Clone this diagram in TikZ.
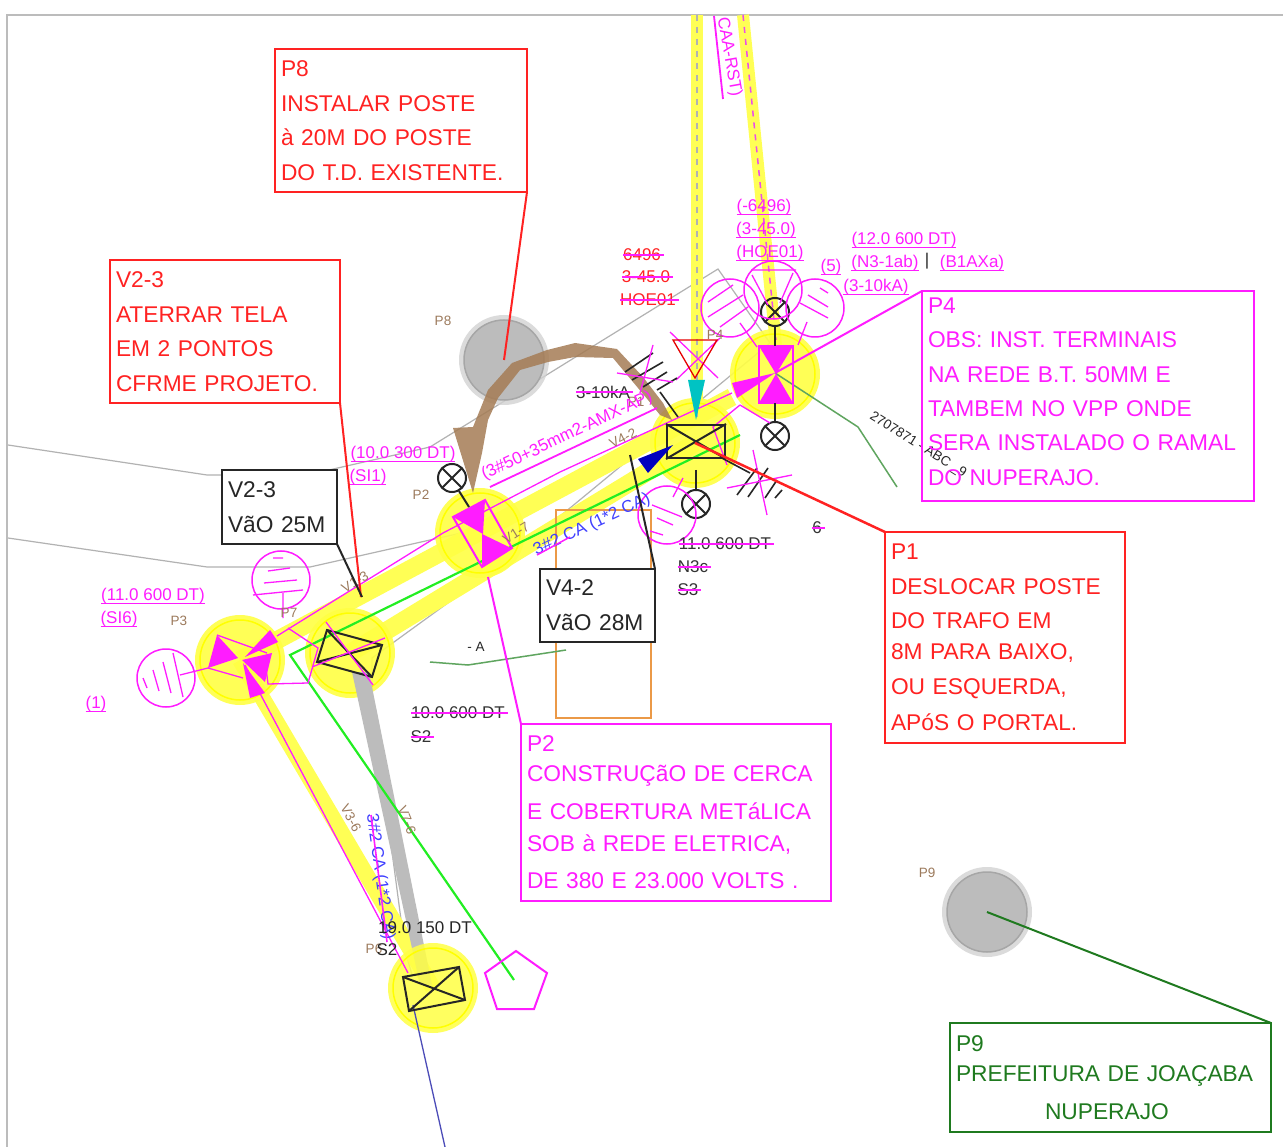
\documentclass[tikz,border=0pt]{standalone}
\usepackage{fontspec}
\setmainfont{Liberation Sans}
\definecolor{mag}{HTML}{FF1CFF}
\definecolor{rd}{HTML}{FF2222}
\definecolor{yel}{HTML}{FFFF55}
\definecolor{yfill}{HTML}{FFFF44}
\definecolor{yring}{HTML}{FFFF00}
\definecolor{brn}{HTML}{9C7A5C}
\definecolor{tanb}{HTML}{A57C55}
\definecolor{dgreen}{HTML}{1F7A1F}
\definecolor{tgreen}{HTML}{5FA55F}
\definecolor{lgreen}{HTML}{22EE22}
\definecolor{gr}{HTML}{BCBCBC}
\tikzset{
  box/.style={draw,line width=2pt,anchor=north west,inner sep=6pt,outer sep=0pt,align=left,font=\fontsize{22.75}{30}\selectfont},
  small/.style={inner sep=0pt,outer sep=0pt,font=\fontsize{17}{17}\selectfont},
  tiny/.style={inner sep=0pt,outer sep=0pt,text=brn,font=\fontsize{13.5}{14}\selectfont},
  pole/.style={circle,fill=yfill,fill opacity=.9,draw=none,minimum size=90pt,inner sep=0pt,outer sep=0pt},
  ring/.style={draw=yring,line width=1.5pt},
  stone/.style={circle,fill=gr,draw=gray!70,line width=1.5pt,minimum size=80pt,inner sep=0pt},
  ml/.style={draw=mag,line width=1.3pt},
  mf/.style={fill=mag,draw=none},
  bl/.style={draw=black!85,line width=2pt},
  ybandw/.style={draw=yel,line cap=butt},
  gline/.style={draw=gray!60,line width=1.2pt},
  lamp/.style={circle,draw=black!85,line width=2pt,minimum size=28pt,inner sep=0pt,outer sep=0pt},
  hat/.style={circle,draw=mag,line width=1.5pt,minimum size=58pt,inner sep=0pt,outer sep=0pt},
}
% underlined label
\newcommand\ulab[4]{\node[small,text=mag,anchor=center,yshift=-2pt] (#1) at (#2,#3) {#4};
  \draw[mag,line width=1.5pt] ([yshift=-3pt]#1.base west) -- ([yshift=-3pt]#1.base east);}
% struck label
\newcommand\slab[5]{\node[small,text=#5,anchor=center,yshift=-1pt] (#1) at (#2,#3) {#4};
  \draw[mag,line width=1.5pt] (#1.west) -- ([xshift=3pt]#1.east);}
% lamp with a cross
\newcommand\lampx[3]{\node[lamp] (#1) at (#2,#3) {};
  \draw[bl] (#1.north west) -- (#1.south east) (#1.north east) -- (#1.south west);}
\begin{document}
\begin{tikzpicture}[x=1pt,y=-1pt]
\useasboundingbox (0,0) rectangle (1283,1147);
\fill[white] (0,0) rectangle (1283,1147);
\clip (0,0) rectangle (1283,1147);
\draw[gr,line width=2pt] (1283,15) -- (7,15) -- (7,1147);

% thin gray outlines
\draw[gline] (8,445) -- (207,475) -- (307,475) -- (430,447) -- (718,269) -- (770,343) -- (507,560) -- (372,658) -- (372,700) -- (405,950) -- (412,975);
\draw[gline] (8,538) -- (207,567) -- (310,567) -- (430,540) -- (520,520);

% yellow bands
\coordinate (topA) at (697,15); \coordinate (topB) at (743,15);
\coordinate (poleP4) at (775,374); \coordinate (poleP1) at (695,443); \coordinate (poleP2) at (480,533);
\coordinate (poleP7) at (350,653); \coordinate (poleP3) at (240,660); \coordinate (poleP6) at (433,988);
\draw[ybandw,line width=12pt] (topA) -- (697,420);
\draw[ybandw,line width=12pt] (topB) -- (776,345);
\draw[ybandw,line width=18pt] (poleP3) -- (732,397);
\draw[ybandw,line width=18pt] (poleP7) -- (poleP1);
\draw[ybandw,line width=16pt] (poleP3) -- (poleP6);

% pole discs
\foreach \n in {P4,P1,P2,P7,P3} {
  \node[pole] (disc\n) at (pole\n) {};
  \draw[ring] (pole\n) circle (40);
}
\fill[gr] (352,672) -- (369,672) -- (432,985) -- (420,985) -- cycle;
\node[pole,fill opacity=.85] (discP6) at (poleP6) {};
\draw[ring] (poleP6) circle (40);
\draw[gray!60,dash pattern=on 6pt off 6pt,line width=1.5pt] (topA) -- (697,420);
\draw[mag!70!gr,dash pattern=on 6pt off 6pt,line width=1.5pt] (topB) -- (776,340);

% stones
\fill[gray!35,opacity=.8] (504,360) circle (45);
\node[stone] (stoneP8) at (504,360) {};
\fill[gray!35,opacity=.8] (987,912) circle (45);
\node[stone] (stoneP9) at (987,912) {};

% brown path
\fill[tanb,opacity=.85] (473,493) -- (453,428) -- (473,427) -- (488,390) -- (512,363) -- (547,350) -- (575,343) -- (617,349) -- (643,377) -- (663,403) -- (672,420) -- (660,415) -- (648,400) -- (613,358) -- (575,357) -- (548,362) -- (520,370) -- (498,398) -- (488,420) -- (482,453) -- cycle;

% orange rectangle
\draw[draw=orange!60!brown!80,line width=1.5pt] (556,510) rectangle (651,718);

% green lines
\draw[lgreen,line width=2.2pt] (740,435) -- (290,655) -- (514,980);
\draw[tgreen,line width=1.5pt] (430,662) -- (468,665) -- (566,650);
\draw[tgreen,line width=1.5pt] (775,373) -- (858,427) -- (897,487);
\draw[blue!60!black!70,line width=1.3pt] (413,1005) -- (445,1147);

% pentagon
\draw[ml,line width=2pt] (516,951) -- (547,973) -- (534,1009) -- (497,1009) -- (485,973) -- cycle;

% long thin magenta conductors
\draw[ml] (277,636) -- (443,533) -- (560,472) -- (732,393);
\draw[ml] (245,665) -- (408,973);

% P4 pole symbol
\draw[ml,line width=2pt] (759,346) rectangle (793,403);
\fill[mf] (759,346) -- (793,346) -- (776,374) -- cycle;
\fill[mf] (759,403) -- (793,403) -- (776,374) -- cycle;
\fill[mf] (732,383) -- (737,398) -- (775,373) -- cycle;
\lampx{lampP4a}{775}{312}
\lampx{lampP4b}{775}{436}
\draw[bl] (lampP4a.south) -- (775,346) (775,403) -- (lampP4b.north);
\node[hat] (hatL) at (730,308) {};
\node[hat] (hatM) at (773,290) {};
\node[hat] (hatR) at (815,308) {};
\draw[ml] (708,302) -- (733,285) (708,317) -- (743,295) (720,327) -- (748,307) (740,323) -- (757,347);
\draw[ml] (820,288) -- (828,293) (808,295) -- (828,307) (800,303) -- (828,318) (807,322) -- (798,345);
\draw[ml] (751,270) -- (796,270) (752,275) -- (768,305) (793,273) -- (780,303);
\draw[mag,line width=2pt] (922,291) -- (775,373);
\draw[ml] (740,405) -- (770,423) (740,405) -- (713,427) -- (727,465);

% P1 pole symbol
\node[draw=black!85,line width=2pt,minimum width=58pt,minimum height=33pt,inner sep=0pt] (rectP1) at (696,441.5) {};
\draw[bl] (rectP1.north west) -- (rectP1.south east) (rectP1.north east) -- (rectP1.south west);
\draw[ml] (670,332) -- (718,378) (720,338) -- (676,380);
\draw[red!90!black,line width=1.3pt] (673,340) -- (717,340) -- (695,378) -- cycle;
\fill[teal!30!cyan!90!black] (688,380) -- (705,380) -- (696,420) -- cycle;
\fill[blue!75!black] (673,445) -- (638,459) -- (648,473) -- cycle;
\lampx{lampP1}{696}{504}
\draw[bl] (696,470) -- (lampP1.north);
\node[hat] (hatP1) at (667,515) {};
\draw[ml] (652,505) -- (682,517) (657,518) -- (673,525) (650,531) -- (663,535) (673,497) -- (683,478);
% NW arrester group
\draw[bl,line width=1.6pt] (625,372) -- (653,353) (632,380) -- (663,362) (643,387) -- (667,372) (657,390) -- (677,378) (660,392) -- (678,417);
\draw[ml] (653,345) -- (640,393) (617,373) -- (673,382);
% SE arrester group
\draw[bl,line width=1.6pt] (737,495) -- (757,468) (748,497) -- (768,468) (765,498) -- (777,480) (775,498) -- (782,490) (720,457) -- (750,473);
\draw[ml] (753,450) -- (767,515) (727,488) -- (792,475);

% P2 pole symbol
\draw[ml,line width=2pt] (453,517) -- (485,500) -- (512,548) -- (482,567) -- cycle;
\fill[mf] (453,517) -- (485,500) -- (483,534) -- cycle;
\fill[mf] (482,567) -- (511,548) -- (482,534) -- cycle;
\lampx{lampP2}{452}{478}
\draw[bl] (459,491) -- (469,507);

% P7 pole symbol
\draw[bl] (327,630) -- (382,645) -- (372,677) -- (317,662) -- cycle;
\draw[bl] (327,630) -- (372,677) (382,645) -- (317,662);
\draw[ml] (326,622) -- (373,685) (312,667) -- (385,638);
\draw[ml] (288,628) -- (318,648) -- (308,683) -- (268,684) -- (265,660);

% P3 pole symbol
\fill[mf] (217,635) -- (208,668) -- (238,658) -- cycle;
\fill[mf] (270,630) -- (278,642) -- (245,657) -- cycle;
\fill[mf] (272,653) -- (265,682) -- (242,660) -- cycle;
\fill[mf] (243,663) -- (265,693) -- (250,698) -- cycle;
\draw[ml] (217,635) -- (267,653) (208,668) -- (243,678);
\node[hat] (hatP3) at (166,678) {};
\draw[ml] (143,678) -- (147,688) (153,670) -- (159,691) (163,662) -- (171,693) (173,653) -- (183,697) (180,675) -- (208,668);
\node[hat] (hatP7) at (281,580) {};
\draw[ml] (273,558) -- (283,558) (268,571) -- (290,568) (264,583) -- (297,580) (253,595) -- (303,590) (283,593) -- (283,618);

% P6 pole symbol
\draw[bl] (403,977) -- (459,967) -- (465,1000) -- (409,1011) -- cycle;
\draw[bl] (403,977) -- (465,1000) (459,967) -- (409,1011);

% tiny brown labels
\node[tiny] (tP8) at (443,321) {P8};
\node[tiny] (tP2) at (421,495) {P2};
\node[tiny] (tP3) at (179,621) {P3};
\node[tiny] (tP7) at (289,613) {P7};
\node[tiny] (tP9) at (927,873) {P9};
\node[tiny] (tP4) at (715,335) {P4};
\node[tiny] (tP1) at (636,402) {P1};
\node[tiny] (tP6) at (374,949) {P6};
\node[tiny,rotate=32] (tV17) at (516,533) {V1-7};
\node[tiny,rotate=30] (tV13) at (355,582) {V1-3};
\node[tiny,rotate=27] (tV42) at (623,438) {V4-2};
\node[tiny,rotate=-62] (tV36) at (351,818) {V3-6};
\node[tiny,rotate=-68] (tV76) at (407,820) {V7-6};
\node[tiny,text=black!85] (tA) at (476,647) {- A};
\node[tiny,text=black!85,rotate=-32] (tKey) at (918,445) {2707871 - ABC \_9};

% underlined magenta labels
\ulab{a1}{764}{205}{(-6496)}
\ulab{a2}{766}{228}{(3-45.0)}
\ulab{a3}{770}{251}{(HOE01)}
\ulab{a4}{904}{238}{(12.0 600 DT)}
\ulab{a5}{885}{261}{(N3-1ab)}
\ulab{a6}{972}{261}{(B1AXa)}
\ulab{a7}{831}{265}{(5)}
\ulab{a8}{876}{285}{(3-10kA)}
\ulab{a9}{403}{452}{(10.0 300 DT)}
\ulab{a10}{368}{475}{(SI1)}
\ulab{a11}{153}{594}{(11.0 600 DT)}
\ulab{a12}{119}{617}{(SI6)}
\ulab{a13}{96}{702}{(1)}
\node[small,text=black!85] (bar) at (927,261) {|};
\node[small,text=mag,rotate=25.3] (cond) at (567,436) {(3\#50+35mm2-AMX-AP)};
\draw[mag,line width=1.8pt] (490,487) -- (657,408);
\node[small,text=mag,rotate=-80] (caa) at (729,57) {CAA-RST)};
\draw[mag,line width=1.8pt] (714,16) -- (723,99);
\node[small,text=blue!75!white,rotate=25] (cab1) at (592,525) {3\#2 CA (1*2 CA)};
\draw[mag,line width=1.5pt] (537,555) -- (570,537);
\node[small,text=blue!75!white,rotate=-82] (cab2) at (380,877) {3\#2 CA (1*2 CA)};
\draw[mag,line width=1.6pt] (371,815) -- (387,942);

% struck labels
\slab{s1}{642}{254}{6496}{rd}
\slab{s2}{646}{276}{3-45.0}{rd}
\slab{s3}{648}{299}{HOE01}{rd}
\slab{s4}{603}{391}{3-10kA}{black!80}
\slab{s5}{458}{712}{10.0 600 DT}{black!80}
\slab{s6}{421}{736}{S2}{black!80}
\slab{s7}{725}{543}{11.0 600 DT}{black!80}
\slab{s8}{693}{566}{N3c}{black!80}
\slab{s9}{688}{589}{S3}{black!80}
\slab{s10}{817}{527}{6}{black!80}
\node[small,text=black!85] (d1) at (425,928) {19.0 150 DT};
\node[small,text=black!85] (d2) at (387,950) {S2};

% callout boxes
\node[box,draw=rd,text=rd,minimum width=252pt,minimum height=143pt,text width=240pt] (bP8) at (275,49)
  {P8\\[4.5pt]INSTALAR POSTE\\[4.5pt]à 20M DO POSTE\\[4.5pt]DO T.D. EXISTENTE.};
\node[box,draw=rd,text=rd,minimum width=230pt,minimum height=143pt,text width=218pt] (bV23) at (110,260)
  {V2-3\\[4.5pt]ATERRAR TELA\\[4.5pt]EM 2 PONTOS\\[4.5pt]CFRME PROJETO.};
\node[box,draw=black!85,text=black!85,fill=white,minimum width=115pt,minimum height=74pt,text width=103pt] (bV23k) at (222,470)
  {V2-3\\[5pt]VãO 25M};
\node[box,draw=black!85,text=black!85,fill=white,minimum width=115pt,minimum height=73pt,text width=103pt] (bV42) at (540,569)
  {V4-2\\[5pt]VãO 28M};
\node[box,draw=mag,text=mag,minimum width=332pt,minimum height=210pt,text width=320pt] (bP4) at (922,291)
  {P4\\[4.3pt]OBS: INST. TERMINAIS\\[4.3pt]NA REDE B.T. 50MM E\\[4.3pt]TAMBEM NO VPP ONDE\\[4.3pt]SERA INSTALADO O RAMAL\\[4.3pt]DO NUPERAJO.\rule[-9pt]{0pt}{9pt}};
\node[box,draw=rd,text=rd,minimum width=240pt,minimum height=211pt,text width=228pt] (bP1) at (885,532)
  {P1\\[5pt]DESLOCAR POSTE\\[4pt]DO TRAFO EM\\[1.5pt]8M PARA BAIXO,\\[4.5pt]OU ESQUERDA,\\[6.5pt]APóS O PORTAL.};
\node[box,draw=mag,text=mag,minimum width=310pt,minimum height=177pt,text width=298pt] (bP2) at (521,724)
  {P2\\[0pt]CONSTRUÇãO DE CERCA\\[8pt]E COBERTURA METáLICA\\[2pt]SOB à REDE ELETRICA,\\[7pt]DE 380 E 23.000 VOLTS .};
\node[box,draw=dgreen,text=dgreen,minimum width=321pt,minimum height=109pt,text width=309pt] (bP9) at (950,1023)
  {P9\\[0pt]PREFEITURA DE JOAÇABA\\[8pt]\hspace*{89pt}NUPERAJO};

% leaders
\draw[rd,line width=2pt] (bP8.south east) -- (stoneP8.center);
\draw[rd,line width=2pt] (bV23.south east) -- (361,597);
\draw[bl] (bV23k.south east) -- (362,597);
\draw[bl] (bV42.north east) -- (630,455);
\draw[rd,line width=2.5pt] (bP1.north west) -- (poleP1);
\draw[mag,line width=2pt] (bP2.north west) -- (488,577);
\draw[dgreen,line width=2pt] (bP9.north east) -- (stoneP9.center);
\end{tikzpicture}
\end{document}
